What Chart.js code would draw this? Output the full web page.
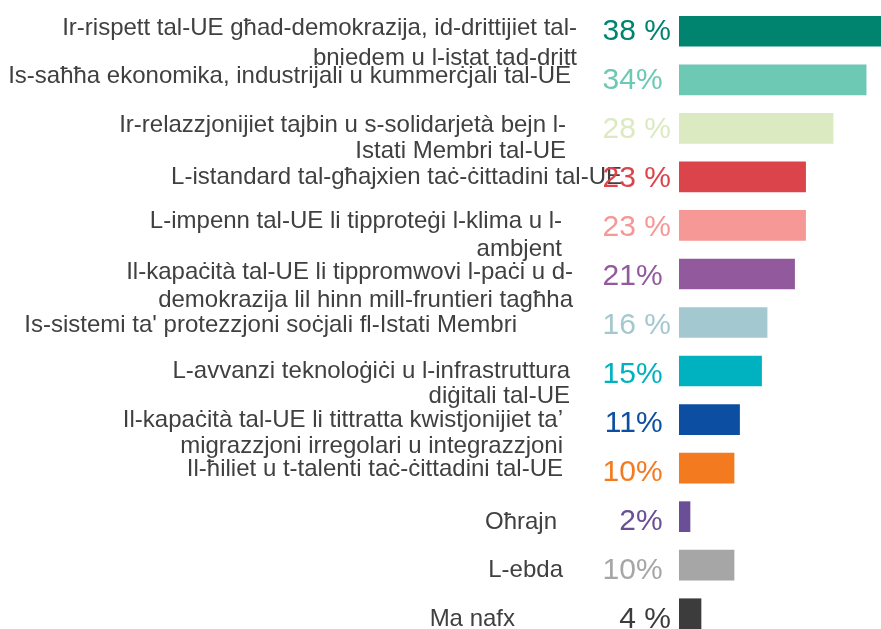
<!DOCTYPE html>
<html>
<head>
<meta charset="utf-8">
<script src="https://cdn.jsdelivr.net/npm/chart.js@4"></script>
<style>
    html, body { margin: 0; padding: 0; background: #ffffff; overflow: hidden; }
    #wrap { position: absolute; left: 0; top: 0; width: 881px; height: 645px; }
</style>
</head>
<body>
<div id="wrap"><canvas id="barChart"></canvas></div>
<script>
// --- data ---
const categories = [
    ['Ir-rispett tal-UE għad-demokrazija, id-drittijiet tal-', 'bniedem u l-istat tad-dritt'],
    ['Is-saħħa ekonomika, industrijali u kummerċjali tal-UE'],
    ['Ir-relazzjonijiet tajbin u s-solidarjetà bejn l-', 'Istati Membri tal-UE'],
    ['L-istandard tal-għajxien taċ-ċittadini tal-UE'],
    ['L-impenn tal-UE li tipproteġi l-klima u l-', 'ambjent'],
    ['Il-kapaċità tal-UE li tippromwovi l-paċi u d-', 'demokrazija lil hinn mill-fruntieri tagħha'],
    ['Is-sistemi ta\' protezzjoni soċjali fl-Istati Membri'],
    ['L-avvanzi teknoloġiċi u l-infrastruttura', 'diġitali tal-UE'],
    ['Il-kapaċità tal-UE li tittratta kwistjonijiet ta’', 'migrazzjoni irregolari u integrazzjoni'],
    ['Il-ħiliet u t-talenti taċ-ċittadini tal-UE'],
    ['Oħrajn'],
    ['L-ebda'],
    ['Ma nafx']
];
const values = [38, 34, 28, 23, 23, 21, 16, 15, 11, 10, 2, 10, 4];
const valueLabels = ['38 %', '34% ', '28 %', '23 %', '23 %', '21% ', '16 %', '15% ', '11% ', '10% ', '2% ', '10% ', '4 %'];

// --- styles / layout ---
const barColors = ['#008470', '#6dc8b4', '#dbeac1', '#db444b', '#f59896', '#925a9d', '#a4c8d0',
                   '#00b2bf', '#0b4ea2', '#f47a20', '#6a4f97', '#a6a6a6', '#3c3c3c'];
const labelRight = [577, 571, 566, 622, 562, 573, 517, 570, 563, 563, 557, 563, 515];
// baseline of the first line, relative to the bar centre
const labelBase = [4, 3, 4, 7, 3, 5, 9, 7, 7, 8, 12, 12, 12];
const lineGap = [30, 0, 26, 0, 28, 28, 0, 25, 26, 0, 0, 0, 0];

const labelPlugin = {
    id: 'sideLabels',
    afterDatasetsDraw(chart) {
        const ctx = chart.ctx;
        const yScale = chart.scales.y;
        ctx.save();
        ctx.textAlign = 'right';
        categories.forEach((lines, i) => {
            const y = yScale.getPixelForValue(i);
            // category text
            ctx.textBaseline = 'alphabetic';
            ctx.font = '24px "Liberation Sans Narrow", "Arial Narrow", "Liberation Sans", sans-serif';
            ctx.fillStyle = '#404040';
            lines.forEach((line, j) => {
                ctx.fillText(line, labelRight[i], y + labelBase[i] + j * lineGap[i]);
            });
            // value text
            ctx.font = '30px "Liberation Sans", Arial, sans-serif';
            ctx.fillStyle = barColors[i];
            ctx.fillText(valueLabels[i], 671, y + 9 + i * 0.4);
        });
        ctx.restore();
    }
};

new Chart(document.getElementById('barChart'), {
    type: 'bar',
    data: {
        labels: categories.map(c => c.join(' ')),
        datasets: [{
            data: values,
            backgroundColor: barColors,
            barThickness: 30,
            borderWidth: 0
        }]
    },
    options: {
        indexAxis: 'y',
        responsive: true,
        maintainAspectRatio: false,
        animation: false,
        layout: { padding: { left: 679, right: 0, top: 7, bottom: 7 } },
        plugins: { legend: { display: false }, tooltip: { enabled: false } },
        scales: {
            x: { display: false, min: 0, max: 36.7 },
            y: { display: false }
        }
    },
    plugins: [labelPlugin]
});
</script>
</body>
</html>
